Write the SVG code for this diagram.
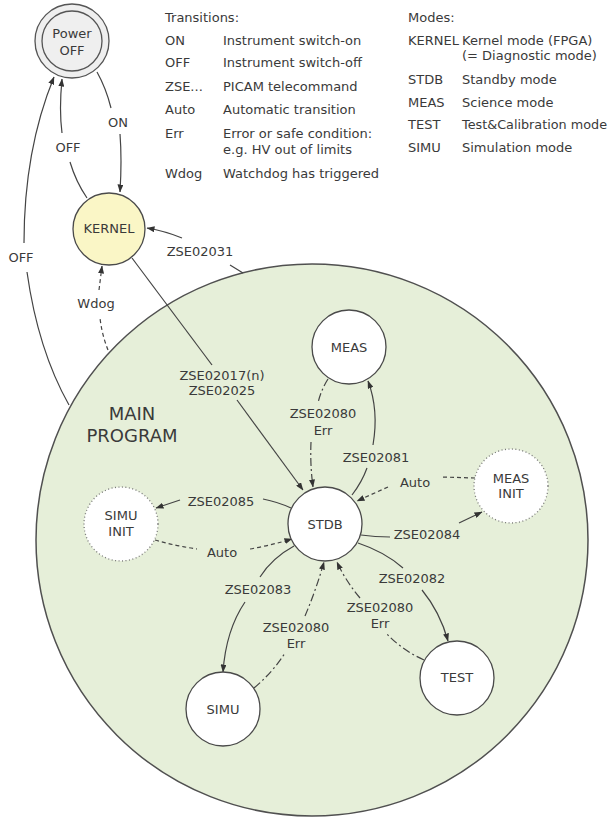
<svg xmlns="http://www.w3.org/2000/svg" width="616" height="820" viewBox="0 0 616 820">
<style>
text{font-family:"DejaVu Sans","Liberation Sans",sans-serif;fill:#3a3a3a;font-size:13px}
.c{text-anchor:middle}
.main{font-size:18px}
.node{stroke:#4a4a4a;stroke-width:1.3;fill:#fff}
.init{stroke:#777;stroke-width:1.3;stroke-dasharray:1 2.5;fill:#fff}
.e{fill:none;stroke:#444;stroke-width:1.2}
.d{stroke-dasharray:4 3}
.x{stroke-dasharray:8 3 2 3}
.a{marker-end:url(#ah)}
</style>
<defs>
<marker id="ah" markerUnits="userSpaceOnUse" markerWidth="8" markerHeight="6" refX="7.5" refY="3" orient="auto">
<path d="M0,0 L8,3 L0,6 z" fill="#333"/>
</marker>
</defs>
<rect width="616" height="820" fill="#fff"/>

<g id="main-program">
<circle cx="312" cy="540" r="276" fill="#e6efd9" stroke="#505050" stroke-width="1.5"/>
<text class="c main" x="132" y="420">MAIN</text>
<text class="c main" x="132" y="442">PROGRAM</text>
</g>

<g id="legend">
<text x="165" y="22">Transitions:</text>
<text x="165" y="45">ON</text><text x="223" y="45">Instrument switch-on</text>
<text x="165" y="67">OFF</text><text x="223" y="67">Instrument switch-off</text>
<text x="165" y="91">ZSE...</text><text x="223" y="91">PICAM telecommand</text>
<text x="165" y="114">Auto</text><text x="223" y="114">Automatic transition</text>
<text x="165" y="138">Err</text><text x="223" y="138">Error or safe condition:</text>
<text x="223" y="154">e.g. HV out of limits</text>
<text x="165" y="178">Wdog</text><text x="223" y="178">Watchdog has triggered</text>
<text x="408" y="22">Modes:</text>
<text x="408" y="45">KERNEL</text><text x="462" y="45">Kernel mode (FPGA)</text>
<text x="462" y="60">(= Diagnostic mode)</text>
<text x="408" y="84">STDB</text><text x="462" y="84">Standby mode</text>
<text x="408" y="107">MEAS</text><text x="462" y="107">Science mode</text>
<text x="408" y="129">TEST</text><text x="462" y="129" textLength="145" lengthAdjust="spacingAndGlyphs">Test&amp;Calibration mode</text>
<text x="408" y="152">SIMU</text><text x="462" y="152">Simulation mode</text>
</g>

<g id="connectors">
<!-- ON -->
<path class="e" d="M97,72 Q106,88 111,108"/>
<path class="e a" d="M120,134 Q122,160 120,192"/>
<text class="c" x="118" y="127">ON</text>
<!-- OFF short -->
<path class="e" d="M87,198 Q76,182 70,162"/>
<path class="e a" d="M62,133 Q59,110 62,79"/>
<text class="c" x="68" y="152">OFF</text>
<!-- OFF long -->
<path class="e" d="M69,405 Q38,350 27,272"/>
<path class="e a" d="M24,243 Q24,150 54,77"/>
<text class="c" x="21" y="262">OFF</text>
<!-- Wdog -->
<path class="e d" d="M108,350 Q102,335 100,318"/>
<path class="e d a" d="M99,290 L102,266"/>
<text class="c" x="96" y="308">Wdog</text>
<!-- ZSE02031 -->
<path class="e" d="M243,273 L230,265"/>
<path class="e a" d="M182,238 Q165,231 147,228"/>
<text class="c" x="200" y="256">ZSE02031</text>
<!-- ZSE02017(n) / ZSE02025 -->
<path class="e" d="M132,258 L212,365"/>
<path class="e a" d="M237,400 L303,490"/>
<text class="c" x="222" y="380">ZSE02017(n)</text>
<text class="c" x="222" y="395">ZSE02025</text>
<!-- MEAS -> STDB Err -->
<path class="e x" d="M328,379 Q321,390 318,403"/>
<path class="e x a" d="M311,442 Q310,465 313,487"/>
<text class="c" x="323" y="418">ZSE02080</text>
<text class="c" x="323" y="435">Err</text>
<!-- STDB -> MEAS -->
<path class="e" d="M352,495 Q362,482 367,468"/>
<path class="e a" d="M373,445 Q379,410 368,381"/>
<text class="c" x="376" y="462">ZSE02081</text>
<!-- MEAS INIT -> STDB Auto -->
<path class="e d" d="M475,478 L442,477"/>
<path class="e d a" d="M388,487 L357,501"/>
<text class="c" x="415" y="487">Auto</text>
<!-- STDB -> MEAS INIT -->
<path class="e" d="M361,535 Q375,537 390,537"/>
<path class="e a" d="M459,523 L482,512"/>
<text class="c" x="427" y="539">ZSE02084</text>
<!-- STDB -> TEST -->
<path class="e" d="M358,543 Q385,552 403,568"/>
<path class="e a" d="M422,590 Q440,612 448,641"/>
<text class="c" x="412" y="583">ZSE02082</text>
<!-- TEST -> STDB Err -->
<path class="e x" d="M424,660 Q402,650 387,634"/>
<path class="e x a" d="M360,598 Q345,580 337,562"/>
<text class="c" x="380" y="612">ZSE02080</text>
<text class="c" x="380" y="628">Err</text>
<!-- STDB -> SIMU -->
<path class="e" d="M294,546 Q272,558 260,577"/>
<path class="e a" d="M245,602 Q226,630 223,672"/>
<text class="c" x="258" y="594">ZSE02083</text>
<!-- SIMU -> STDB Err -->
<path class="e x" d="M254,688 Q273,672 285,653"/>
<path class="e x a" d="M305,616 Q316,590 324,562"/>
<text class="c" x="296" y="632">ZSE02080</text>
<text class="c" x="296" y="648">Err</text>
<!-- STDB -> SIMU INIT -->
<path class="e" d="M291,508 Q278,502 263,499"/>
<path class="e a" d="M180,500 L156,508"/>
<text class="c" x="221" y="506">ZSE02085</text>
<!-- SIMU INIT -> STDB Auto -->
<path class="e d" d="M155,540 Q176,546 197,549"/>
<path class="e d a" d="M250,549 Q272,545 292,539"/>
<text class="c" x="222" y="557">Auto</text>
</g>

<g id="power-off">
<circle cx="72" cy="41" r="37" fill="#efefef" stroke="#555" stroke-width="1.3"/>
<circle cx="72" cy="41" r="30" fill="none" stroke="#555" stroke-width="1.3"/>
<text class="c" x="72" y="38">Power</text>
<text class="c" x="72" y="55">OFF</text>
</g>
<g id="kernel">
<circle cx="109" cy="229" r="36" fill="#faf6c6" stroke="#4a4a4a" stroke-width="1.3"/>
<text class="c" x="109" y="233">KERNEL</text>
</g>
<g id="stdb">
<circle class="node" cx="325" cy="524" r="37"/>
<text class="c" x="325" y="529">STDB</text>
</g>
<g id="meas">
<circle class="node" cx="349" cy="347" r="37"/>
<text class="c" x="349" y="352">MEAS</text>
</g>
<g id="meas-init">
<circle class="init" cx="511" cy="486" r="37"/>
<text class="c" x="511" y="483">MEAS</text>
<text class="c" x="511" y="498">INIT</text>
</g>
<g id="simu-init">
<circle class="init" cx="121" cy="524" r="37"/>
<text class="c" x="121" y="520">SIMU</text>
<text class="c" x="121" y="536">INIT</text>
</g>
<g id="simu">
<circle class="node" cx="223" cy="709" r="37"/>
<text class="c" x="223" y="714">SIMU</text>
</g>
<g id="test">
<circle class="node" cx="457" cy="678" r="37"/>
<text class="c" x="457" y="682">TEST</text>
</g>
</svg>
